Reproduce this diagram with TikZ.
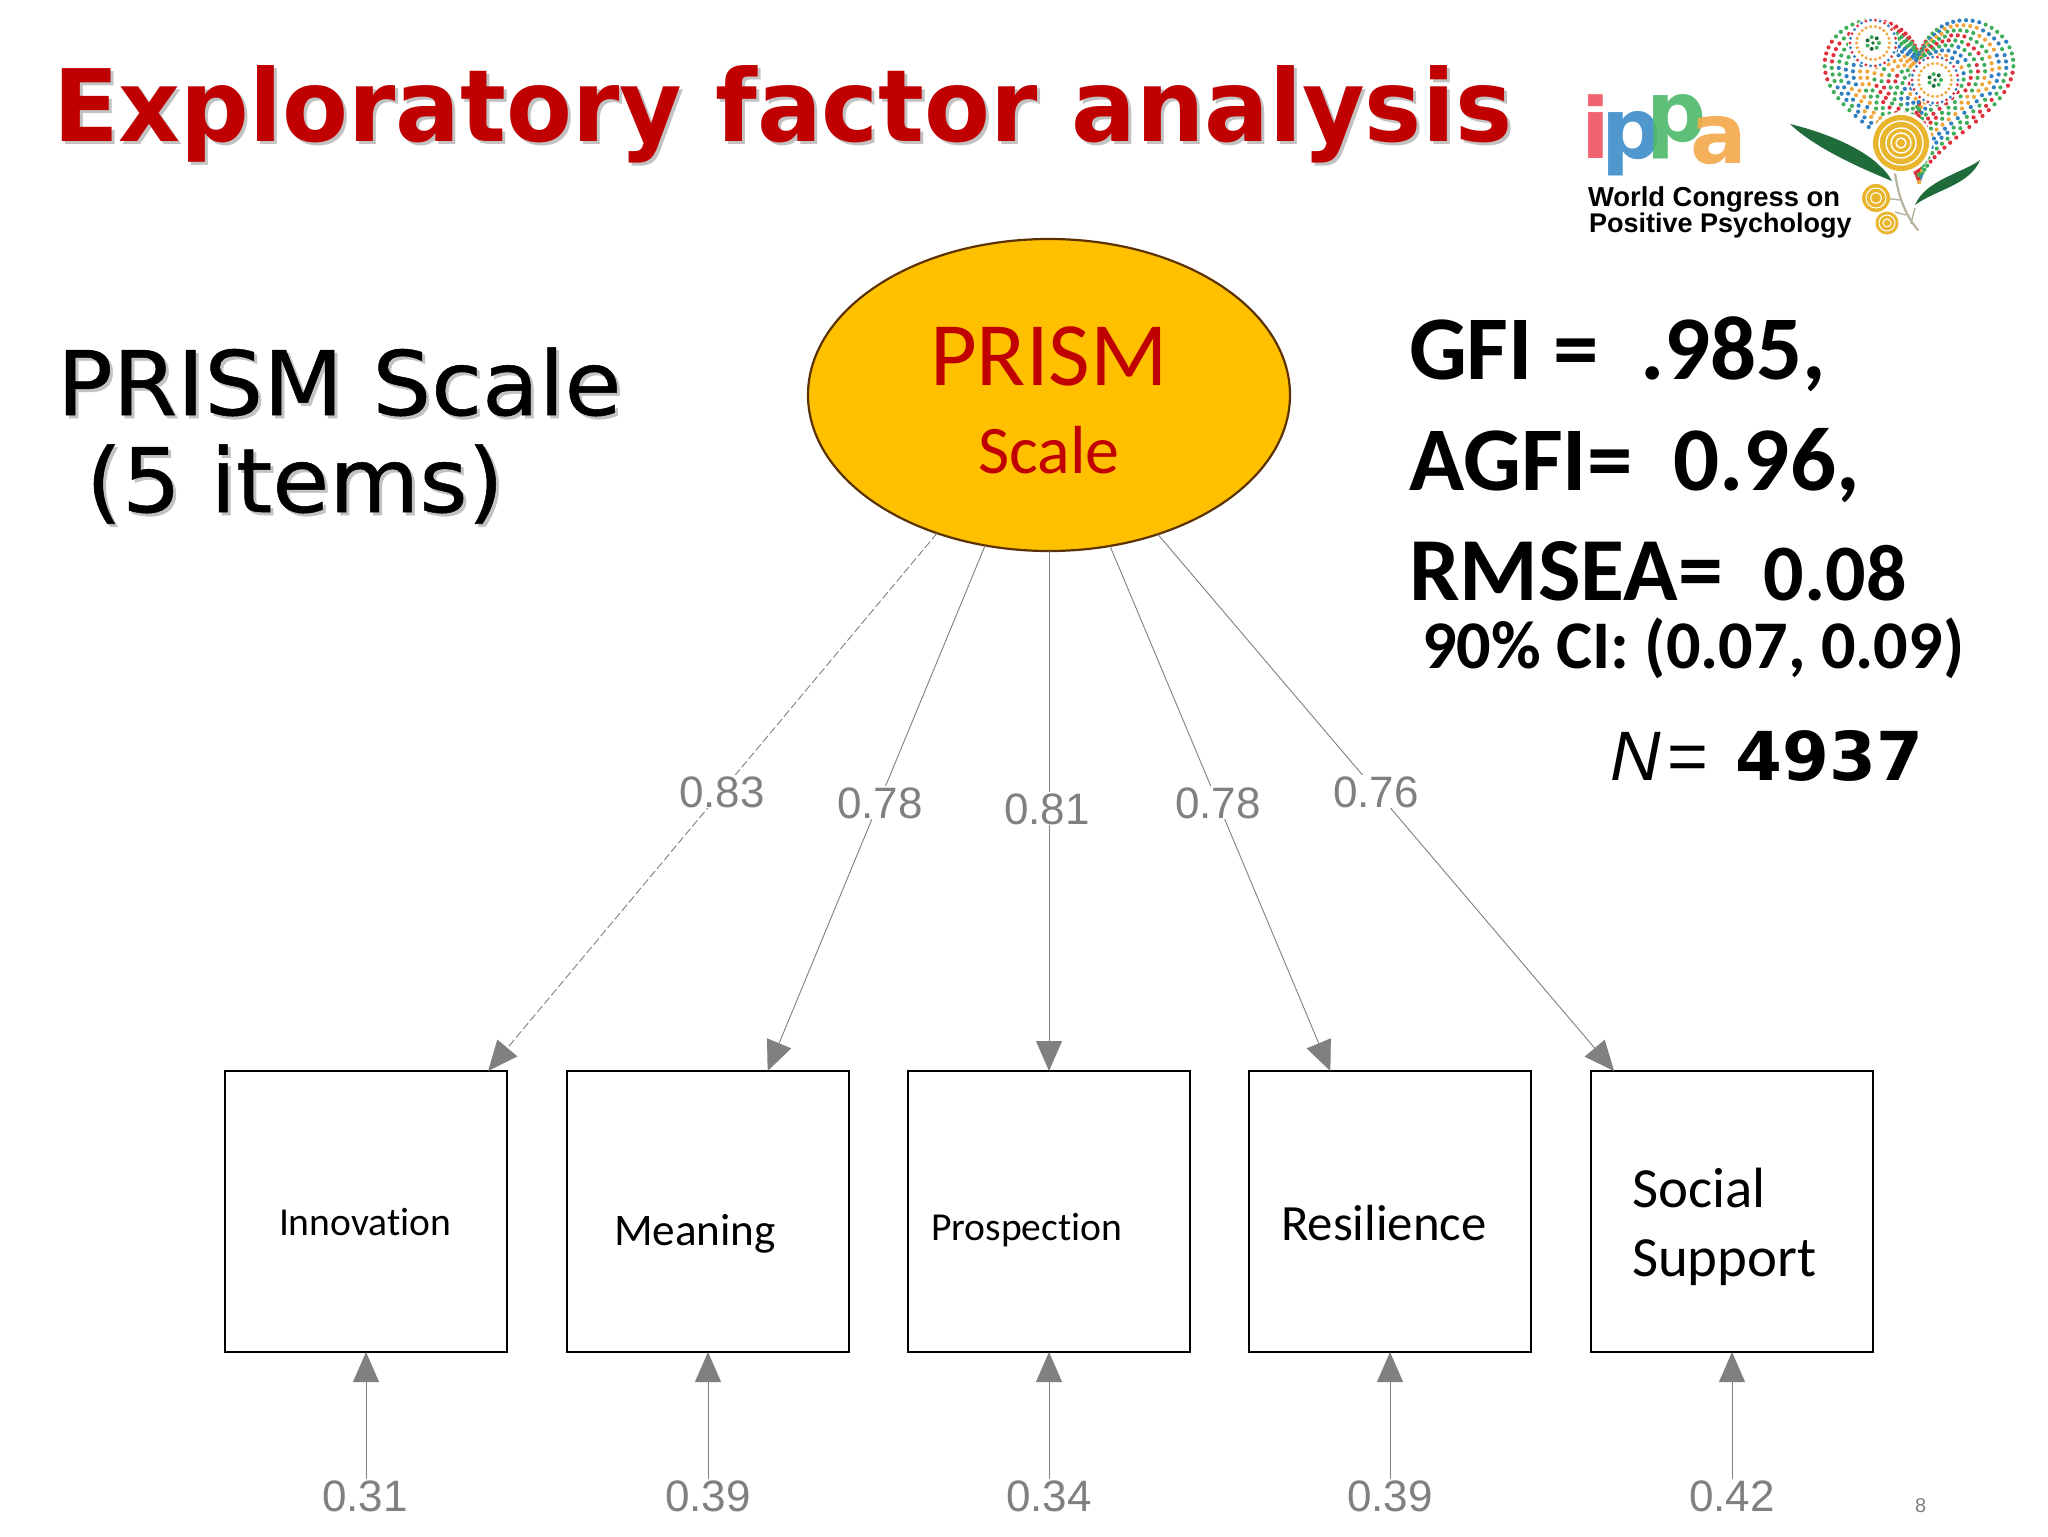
\documentclass[tikz,border=0pt]{standalone}
\usepackage{fontspec}
\usetikzlibrary{arrows.meta,shapes.geometric}
\setmainfont[Ligatures={TeX,NoCommon}]{Carlito}
\newfontfamily\titlefont[FakeStretch=0.96]{DejaVu Sans}
\newfontfamily\capfont[FakeStretch=1.04,FakeBold=0.6]{DejaVu Sans}
\newfontfamily\dejafont{DejaVu Sans}
\newfontfamily\libfont{Liberation Sans}
\definecolor{titlered}{HTML}{C00000}
\definecolor{amber}{HTML}{FFC000}
\definecolor{rim}{HTML}{5C3300}
\definecolor{pathgray}{HTML}{808080}
\definecolor{dotblue}{HTML}{2F7FC1}
\definecolor{dotorange}{HTML}{EFA63C}
\definecolor{dotgreen}{HTML}{3FAE5A}
\definecolor{dotred}{HTML}{E0303C}
\definecolor{dotdark}{HTML}{1E6B3A}
\definecolor{petal}{HTML}{E8B52C}
\definecolor{leafgreen}{HTML}{1F6B3A}
\definecolor{stemgray}{HTML}{B8B39E}
\definecolor{ippared}{HTML}{EF5361}
\definecolor{ippablue}{HTML}{3D8CC9}
\definecolor{ippagreen}{HTML}{4DB96B}
\definecolor{ippaorange}{HTML}{F4A84A}
\newcommand{\fsz}[1]{\fontsize{#1}{#1}\selectfont}
\newcommand{\dotring}[7]{%
  \foreach \dk in {1,...,#4} {
    \pgfmathsetmacro\dang{\dk/#4*360}
    \ifodd\dk \def\dcol{#5}\else\def\dcol{#6}\fi
    \fill[\dcol] ({#1+#3*cos(\dang)},{#2+#3*sin(\dang)}) circle (#7);
  }}
\tikzset{
  txt/.style={inner sep=0pt,outer sep=0pt,anchor=base west},
  obs/.style={draw=black,line width=0.75pt,fill=white,minimum width=141pt,minimum height=140.5pt,inner sep=0pt,outer sep=0pt},
  latent/.style={ellipse,draw=rim,line width=1.1pt,fill=amber,minimum width=241pt,minimum height=156pt,inner sep=0pt,outer sep=0pt},
  pth/.style={draw=pathgray,line width=0.45pt,-{Triangle[length=15pt,width=13pt,fill=pathgray]}},
  pthdash/.style={pth,dash pattern=on 4pt off 1.5pt},
  coef/.style={font=\libfont\fsz{22},text=pathgray,fill=white,inner sep=0.5pt,outer sep=0pt,anchor=base},
  boxtext/.style={txt,text=black},
  stat/.style={txt,text=black,font=\bfseries},
  shade/.style={text=black!24}
}
\begin{document}
\begin{tikzpicture}[x=0.5pt,y=-0.5pt]
\useasboundingbox (0,0) rectangle (2048,1536);
\fill[white] (0,0) rectangle (2048,1536);

% title
\node[txt,shade,font=\titlefont\bfseries\fsz{50}] at (56,144) {Exploratory factor analysis};
\node[txt,text=titlered,font=\titlefont\bfseries\fsz{50}] (title) at (53,141) {Exploratory factor analysis};

% left caption
\node[txt,shade,font=\capfont\fsz{44.5}] at (60,418) {PRISM Scale};
\node[txt,text=black,font=\capfont\fsz{44.5}] (cap1) at (57,415) {PRISM Scale};
\node[txt,shade,font=\capfont\fsz{44.5}] at (89,515) {(5 items)};
\node[txt,text=black,font=\capfont\fsz{44.5}] (cap2) at (86,512) {(5 items)};

% statistics
\node[stat,font=\bfseries\fsz{45.5}] (gfi) at (1409,379) {GFI =\ \ .985,};
\node[stat,font=\bfseries\fsz{45.5}] (agfi) at (1409,490) {AGFI=\ \ 0.96,};
\node[stat,font=\bfseries\fsz{45}] (rmsea) at (1409,600) {RMSEA=\ \ {\fsz{40}0.08}};
\node[stat,font=\bfseries\fsz{34.1}] (ci) at (1422,668) {90\% CI: (0.07, 0.09)};
\node[txt,text=black] (enn) at (1610,780) {\libfont\fsz{35}\itshape N\hspace{3.5pt}\upshape=\hspace{0.385em}{\dejafont\bfseries\fsz{33.7}4937}};

% latent
\node[latent] (prism) at (1049,395) {};
\node[inner sep=0pt,text=titlered,anchor=base,font=\fsz{45.3}] (prismA) at (1049,385) {PRISM};
\node[inner sep=0pt,text=titlered,anchor=base,font=\fsz{34}] (prismB) at (1049,473) {Scale};

% boxes
\node[obs] (b1) at (366,1211.5) {};
\node[obs] (b2) at (708,1211.5) {};
\node[obs] (b3) at (1049,1211.5) {};
\node[obs] (b4) at (1390,1211.5) {};
\node[obs] (b5) at (1732,1211.5) {};

\node[boxtext,font=\fsz{19.8}] (t1) at (279,1235) {Innovation};
\node[boxtext,font=\fsz{22.6}] (t2) at (614,1245) {Meaning};
\node[boxtext,font=\fsz{19.8}] (t3) at (931,1240) {Prospection};
\node[boxtext,font=\fsz{25.4}] (t4) at (1281,1240) {Resilience};
\node[boxtext,font=\fsz{28.4}] (t5a) at (1632,1207) {Social};
\node[boxtext,font=\fsz{28.4}] (t5b) at (1632,1276) {Support};

% loadings
\draw[pthdash] (prism.231.6) -- (b1.49.3);
\draw[pth] (prism.247.6) -- (b2.67.2);
\draw[pth] (prism.south) -- (b3.north);
\draw[pth] (prism.292.4) -- (b4.113.5);
\draw[pth] (prism.308.4) -- (b5.130.5);
\node[coef] (l1) at (722,807) {0.83};
\node[coef] (l2) at (880,818) {0.78};
\node[coef] (l3) at (1047,824) {0.81};
\node[coef] (l4) at (1218,818) {0.78};
\node[coef] (l5) at (1376,807) {0.76};

% residuals
\node[coef] (e1) at (365,1511) {0.31};
\node[coef] (e2) at (708,1511) {0.39};
\node[coef] (e3) at (1049,1511) {0.34};
\node[coef] (e4) at (1390,1511) {0.39};
\node[coef] (e5) at (1732,1511) {0.42};
\draw[pth] (b1.south |- e1.north) -- (b1.south);
\draw[pth] (e2.north) -- (b2.south);
\draw[pth] (e3.north) -- (b3.south);
\draw[pth] (e4.north) -- (b4.south);
\draw[pth] (e5.north) -- (b5.south);

% page number
\node[txt,text=pathgray,font=\libfont\fsz{10}] (pg) at (1915,1512) {8};

% logo: wordmark
\begin{scope}[opacity=0.9]
\node[txt,text=ippared,font=\dejafont\bfseries\fsz{42}] (lgi) at (1581,158) {i};
\node[txt,text=ippablue,font=\dejafont\bfseries\fsz{42}] (lgp) at (1601,158) {p};
\node[txt,text=ippagreen,font=\dejafont\bfseries\fsz{42}] (lgq) at (1646,141) {p};
\node[txt,text=ippaorange,font=\dejafont\bfseries\fsz{42}] (lga) at (1690,163) {a};
\end{scope}
\node[txt,text=black,font=\libfont\bfseries\fsz{13.7}] (lg1) at (1588,206) {World Congress on};
\node[txt,text=black,font=\libfont\bfseries\fsz{13.5}] (lg2) at (1589,232) {Positive Psychology};

% logo: heart of dots
\foreach \hs [count=\ring from 0] in {1,0.925,0.85,0.775,0.7,0.625,0.55,0.475,0.4,0.325,0.25,0.175,0.1} {
  \pgfmathtruncatemacro\nd{int(100*\hs)+3}
  \foreach \hk in {1,...,\nd} {
    \pgfmathsetmacro\hang{\hk/\nd*360}
    \pgfmathsetmacro\hsin{sin(\hang)}
    \pgfmathsetmacro\hx{16*\hsin*\hsin*\hsin}
    \pgfmathsetmacro\hy{13*cos(\hang)-5*cos(2*\hang)-2*cos(3*\hang)-cos(4*\hang)}
    \pgfmathtruncatemacro\ci{mod(\ring+int(4.4*\hsin*cos(\hang)+2.2)+int(\hk/11),5)}
    \ifcase\ci\def\hcol{dotblue}\or\def\hcol{dotorange}\or\def\hcol{dotgreen}\or\def\hcol{dotred}\or\def\hcol{dotgreen}\else\def\hcol{dotblue}\fi
    \fill[\hcol] ({1919+5.9*\hs*\hx},{87-5.6*\hs*\hy}) circle (2.1);
  }
}
% motif rings
\fill[white] (1873,43) circle (25);
\dotring{1873}{43}{23}{30}{dotred}{dotblue}{1.6}
\dotring{1873}{43}{16.5}{22}{dotorange}{dotorange}{1.7}
\dotring{1873}{43}{6}{7}{dotgreen}{dotdark}{2}
\fill[dotdark] (1873,43) circle (1.8);
\fill[white] (1935,80) circle (25);
\dotring{1935}{80}{23}{30}{dotred}{dotblue}{1.6}
\dotring{1935}{80}{16.5}{22}{dotorange}{dotorange}{1.7}
\dotring{1935}{80}{6}{7}{dotgreen}{dotdark}{2}
\fill[dotdark] (1935,80) circle (1.8);
% clear lower-left of heart
\fill[white] (1790,125) -- (1861,135) -- (1905,168) -- (1905,182) -- (1790,190) -- cycle;
% stem and branches
\draw[stemgray,line width=1.1pt,line cap=round] (1918,230) .. controls (1905,215) and (1898,195) .. (1895,173);
\draw[stemgray,line width=0.7pt] (1900,200) -- (1884,198);
\draw[stemgray,line width=0.7pt] (1906,215) -- (1895,212);
\draw[stemgray,line width=0.7pt] (1911,224) .. controls (1913,215) .. (1915,208);
% leaves
\fill[leafgreen] (1790,124) .. controls (1835,135) and (1878,155) .. (1892,181) .. controls (1860,168) and (1815,148) .. (1790,124) -- cycle;
\fill[leafgreen] (1980,160) .. controls (1965,172) and (1925,180) .. (1915,205) .. controls (1935,190) and (1970,185) .. (1980,160) -- cycle;
% flowers
\fill[white] (1901,143) circle (31);
\fill[petal] (1901,143) circle (28);
\draw[white,line width=0.7pt] (1901,143) circle (22);
\draw[white,line width=0.7pt] (1901,143) circle (15);
\draw[white,line width=0.7pt] (1901,143) circle (10);
\draw[white,line width=0.7pt] (1901,143) circle (5);
\fill[petal] (1876,198) circle (14);
\draw[white,line width=0.5pt] (1876,198) circle (10);
\draw[white,line width=0.5pt] (1876,198) circle (5.5);
\fill[petal] (1887,223) circle (11.5);
\draw[white,line width=0.5pt] (1887,223) circle (8);
\draw[white,line width=0.5pt] (1887,223) circle (4);
\end{tikzpicture}
\end{document}
